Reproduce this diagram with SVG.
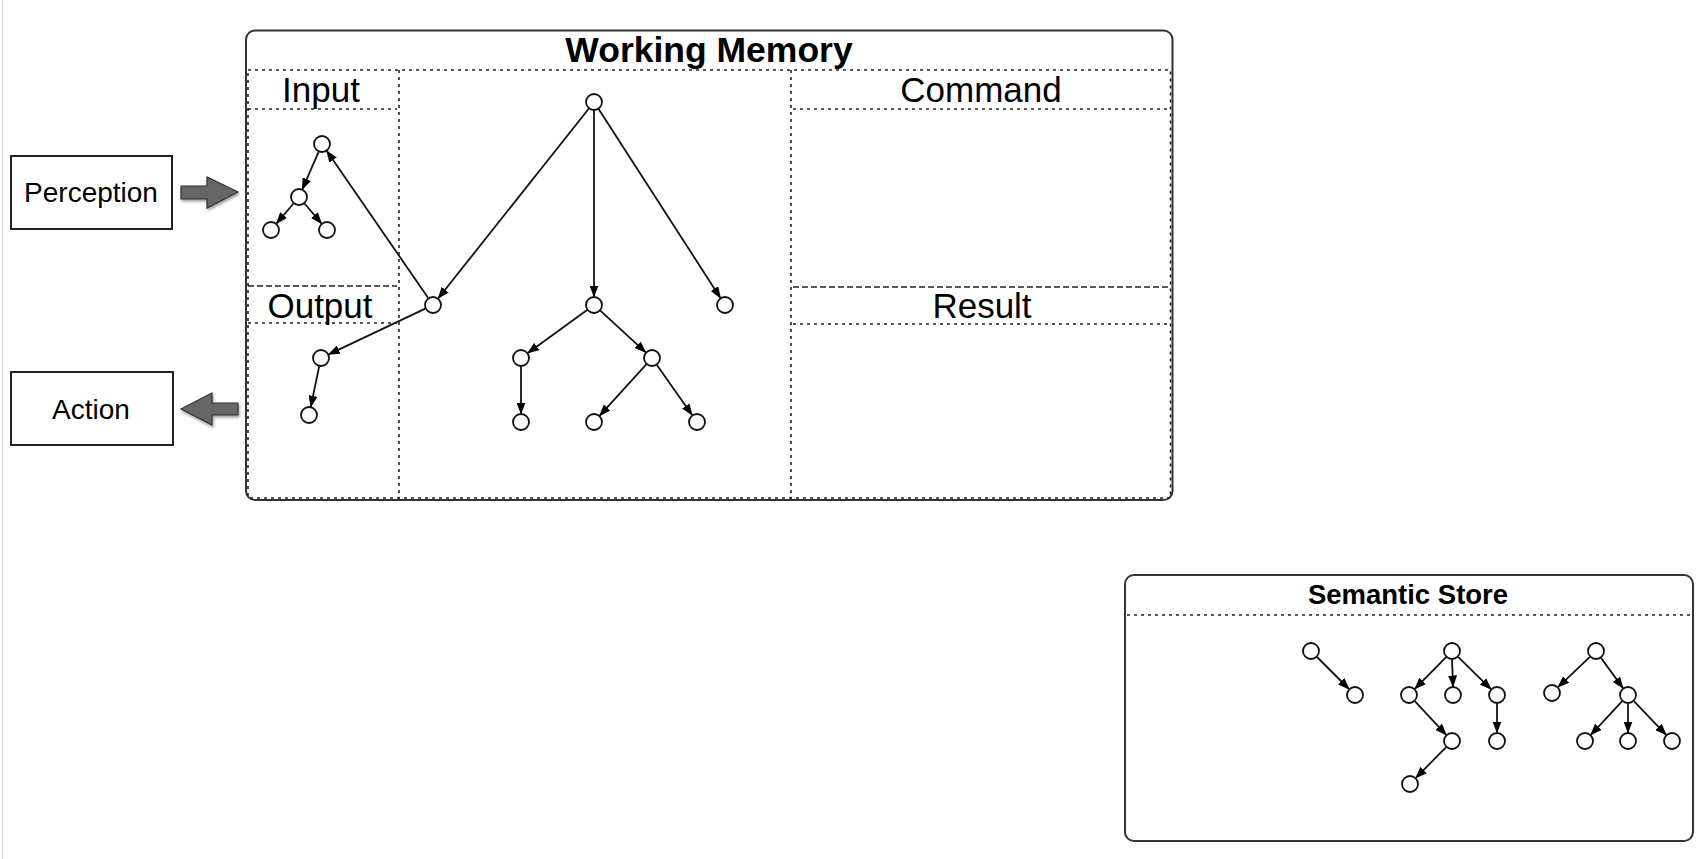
<svg xmlns="http://www.w3.org/2000/svg" width="1696" height="859" viewBox="0 0 1696 859">
<style>
.frame{fill:#fff;stroke:#333;stroke-width:2}
.dot{fill:none;stroke:#222;stroke-width:1.6;stroke-dasharray:3 4}
.dash{fill:none;stroke:#222;stroke-width:1.6;stroke-dasharray:6 3}
.node{fill:#fff;stroke:#111;stroke-width:1.8}
.edge{fill:none;stroke:#111;stroke-width:1.8;marker-end:url(#ah)}
.lbl{font-family:"Liberation Sans",Arial,sans-serif;fill:#000;text-anchor:middle}
.big{font-size:35px}
.bold{font-weight:bold}
.box{fill:#fff;stroke:#222;stroke-width:2}
.bigarrow{fill:#666;stroke:#333;stroke-width:1.2;filter:url(#sh)}
</style>
<defs>
<marker id="ah" markerUnits="userSpaceOnUse" markerWidth="12" markerHeight="9" refX="11" refY="4.5" orient="auto">
<path d="M0,0 L12,4.5 L0,9 z" fill="#000"/>
</marker>
<filter id="sh" x="-30%" y="-30%" width="160%" height="160%">
<feGaussianBlur in="SourceAlpha" stdDeviation="1.5"/>
<feOffset dx="1" dy="2" result="b"/>
<feComponentTransfer><feFuncA type="linear" slope="0.4"/></feComponentTransfer>
<feMerge><feMergeNode/><feMergeNode in="SourceGraphic"/></feMerge>
</filter>
</defs>
<line x1="2.5" y1="0" x2="2.5" y2="859" stroke="#ddd" stroke-width="1"/>

<g id="perception">
<rect class="box" x="11" y="156" width="161" height="73"/>
<text class="lbl" x="91" y="202" font-size="28">Perception</text>
<polygon class="bigarrow" points="181,186 207,186 207,177 238,192 207,208 207,199 181,199"/>
</g>
<g id="action">
<rect class="box" x="11" y="372" width="162" height="73"/>
<text class="lbl" x="91" y="419" font-size="28">Action</text>
<polygon class="bigarrow" points="238,403 212,403 212,393 181,409 212,425 212,415 238,415"/>
</g>

<g id="working-memory">
<rect class="frame" x="246" y="30.5" width="926.5" height="469.5" rx="9"/>
<rect class="dot" x="248" y="70" width="922.5" height="428"/>
<text class="lbl bold" x="709" y="62" font-size="35.5">Working Memory</text>
<line class="dot" x1="399" y1="70" x2="399" y2="499"/>
<line class="dot" x1="791" y1="70" x2="791" y2="499"/>
<line class="dot" x1="248" y1="109" x2="397" y2="109"/>
<line class="dash" x1="248" y1="286" x2="397" y2="286"/>
<line class="dot" x1="248" y1="323" x2="397" y2="323"/>
<line class="dot" x1="793" y1="109" x2="1170" y2="109"/>
<line class="dash" x1="793" y1="287" x2="1170" y2="287"/>
<line class="dot" x1="793" y1="324" x2="1170" y2="324"/>
<text class="lbl big" x="321" y="102">Input</text>
<text class="lbl big" x="320" y="318">Output</text>
<text class="lbl big" x="981" y="102">Command</text>
<text class="lbl big" x="982" y="318">Result</text>
</g>

<g id="semantic-store">
<rect class="frame" x="1125" y="575" width="568" height="266" rx="9"/>
<line class="dot" x1="1127" y1="615" x2="1691" y2="615"/>
<text class="lbl bold" x="1408" y="604" font-size="27.5">Semantic Store</text>
</g>

<g id="connectors">
<line class="edge" x1="588.7" y1="108.7" x2="438.3" y2="298.3"/>
<line class="edge" x1="594" y1="110.5" x2="594" y2="296.5"/>
<line class="edge" x1="598.6" y1="109.1" x2="720.4" y2="297.9"/>
<line class="edge" x1="587.1" y1="310" x2="527.9" y2="353"/>
<line class="edge" x1="600.3" y1="310.7" x2="645.7" y2="352.3"/>
<line class="edge" x1="521" y1="366.5" x2="521" y2="413.5"/>
<line class="edge" x1="646.3" y1="364.3" x2="599.7" y2="415.7"/>
<line class="edge" x1="656.9" y1="365" x2="692.1" y2="415"/>
<line class="edge" x1="428.2" y1="298" x2="326.8" y2="151"/>
<line class="edge" x1="425.3" y1="308.6" x2="328.7" y2="354.4"/>
<line class="edge" x1="319.2" y1="366.3" x2="310.8" y2="406.7"/>
<line class="edge" x1="318.6" y1="151.8" x2="302.4" y2="189.2"/>
<line class="edge" x1="293.5" y1="203.5" x2="276.5" y2="223.5"/>
<line class="edge" x1="304.5" y1="203.5" x2="321.5" y2="223.5"/>
<line class="edge" x1="1317" y1="657" x2="1349" y2="689"/>
<line class="edge" x1="1446.1" y1="657.1" x2="1414.9" y2="688.9"/>
<line class="edge" x1="1452" y1="659.5" x2="1453" y2="686.5"/>
<line class="edge" x1="1458.1" y1="656.9" x2="1490.9" y2="689.1"/>
<line class="edge" x1="1414.8" y1="701.2" x2="1446.2" y2="734.8"/>
<line class="edge" x1="1446.1" y1="747.1" x2="1415.9" y2="777.9"/>
<line class="edge" x1="1497" y1="703.5" x2="1497" y2="732.5"/>
<line class="edge" x1="1589.9" y1="656.9" x2="1558.1" y2="687.1"/>
<line class="edge" x1="1601" y1="657.9" x2="1623" y2="688.1"/>
<line class="edge" x1="1622.2" y1="701.2" x2="1590.8" y2="734.8"/>
<line class="edge" x1="1628" y1="703.5" x2="1628" y2="732.5"/>
<line class="edge" x1="1633.9" y1="701.1" x2="1666.1" y2="734.9"/>
</g>

<g id="wm-nodes">
<circle class="node" cx="594" cy="102" r="8"/>
<circle class="node" cx="433" cy="305" r="8"/>
<circle class="node" cx="594" cy="305" r="8"/>
<circle class="node" cx="725" cy="305" r="8"/>
<circle class="node" cx="521" cy="358" r="8"/>
<circle class="node" cx="652" cy="358" r="8"/>
<circle class="node" cx="521" cy="422" r="8"/>
<circle class="node" cx="594" cy="422" r="8"/>
<circle class="node" cx="697" cy="422" r="8"/>
<circle class="node" cx="322" cy="144" r="8"/>
<circle class="node" cx="299" cy="197" r="8"/>
<circle class="node" cx="271" cy="230" r="8"/>
<circle class="node" cx="327" cy="230" r="8"/>
<circle class="node" cx="321" cy="358" r="8"/>
<circle class="node" cx="309" cy="415" r="8"/>
</g>
<g id="ss-nodes">
<circle class="node" cx="1311" cy="651" r="8"/>
<circle class="node" cx="1355" cy="695" r="8"/>
<circle class="node" cx="1452" cy="651" r="8"/>
<circle class="node" cx="1409" cy="695" r="8"/>
<circle class="node" cx="1453" cy="695" r="8"/>
<circle class="node" cx="1497" cy="695" r="8"/>
<circle class="node" cx="1452" cy="741" r="8"/>
<circle class="node" cx="1497" cy="741" r="8"/>
<circle class="node" cx="1410" cy="784" r="8"/>
<circle class="node" cx="1596" cy="651" r="8"/>
<circle class="node" cx="1552" cy="693" r="8"/>
<circle class="node" cx="1628" cy="695" r="8"/>
<circle class="node" cx="1585" cy="741" r="8"/>
<circle class="node" cx="1628" cy="741" r="8"/>
<circle class="node" cx="1672" cy="741" r="8"/>
</g>
</svg>
